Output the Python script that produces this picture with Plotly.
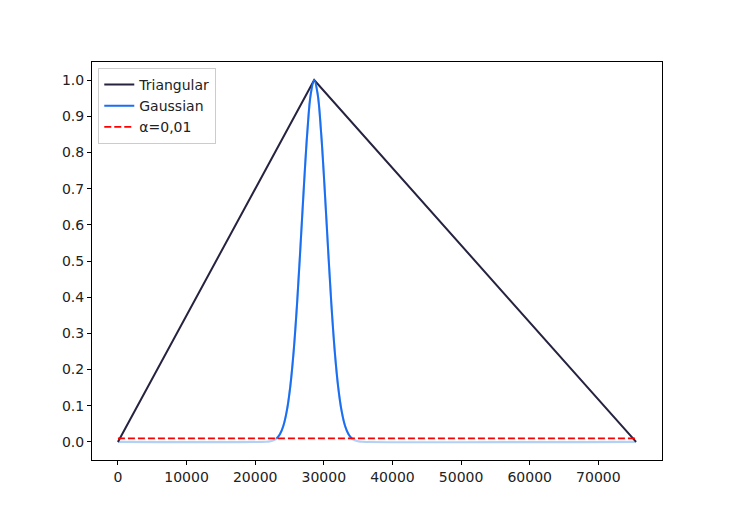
import plotly.graph_objects as go

# values
tri_x = [0, 28600, 75500]
tri_y = [0, 1.0, 0]

gauss_x = [21600, 22100, 22600, 23100, 23600, 24100, 24600, 25100, 25600, 26100,
           26600, 27100, 27600, 28100, 28600, 29100, 29600, 30100, 30600, 31100,
           31600, 32100, 32600, 33100, 33600, 34100, 34600, 35100, 35600]
gauss_y = [0.0005, 0.0015, 0.004, 0.009, 0.021, 0.044, 0.085, 0.151, 0.249, 0.381,
           0.540, 0.707, 0.857, 0.962, 1.0, 0.962, 0.857, 0.707, 0.540, 0.381,
           0.249, 0.151, 0.085, 0.044, 0.021, 0.009, 0.004, 0.0015, 0.0005]

alpha_x = [0, 75500]
alpha_y = [0.01, 0.01]

x_ticks = [0, 10000, 20000, 30000, 40000, 50000, 60000, 70000]
y_ticks = [0.0, 0.1, 0.2, 0.3, 0.4, 0.5, 0.6, 0.7, 0.8, 0.9, 1.0]

# tails of the gaussian (below alpha) drawn pale along the whole support
tail_x = [tri_x[0]] + gauss_x + [tri_x[-1]]
tail_y = [0] + gauss_y + [0]
core = [(x, y) for x, y in zip(gauss_x, gauss_y) if y >= 0.009]
core_x = [c[0] for c in core]
core_y = [c[1] for c in core]

fig = go.Figure()
fig.add_trace(go.Scatter(x=tail_x, y=tail_y, mode="lines", showlegend=False,
                         line=dict(color="#b3d0f7", width=2.2, shape="spline"),
                         hoverinfo="skip"))
fig.add_trace(go.Scatter(x=tri_x, y=tri_y, mode="lines", name="Triangular",
                         line=dict(color="#25233f", width=2)))
fig.add_trace(go.Scatter(x=core_x, y=core_y, mode="lines", name="Gaussian",
                         line=dict(color="#1a6ef2", width=2, shape="spline")))
fig.add_trace(go.Scatter(x=alpha_x, y=alpha_y, mode="lines", name="α=0,01",
                         line=dict(color="red", width=1.8, dash="7px,3px")))

axis_style = dict(showline=True, linecolor="black", linewidth=1, mirror=True,
                  ticks="outside", ticklen=4, tickcolor="black", showgrid=False,
                  zeroline=False, tickfont=dict(size=14, color="#222222"))

# the page body adds an 8px offset, margins compensate for it
fig.update_layout(
    width=736, height=526,
    margin=dict(l=84, r=82, t=54, b=74),
    paper_bgcolor="white", plot_bgcolor="white",
    font=dict(family="DejaVu Sans", size=14, color="#222222"),
    xaxis=dict(range=[-3775, 79275], tickvals=x_ticks,
               ticktext=[str(v) for v in x_ticks], **axis_style),
    yaxis=dict(range=[-0.05, 1.05], tickvals=y_ticks,
               ticktext=["%.1f" % v for v in y_ticks], **axis_style),
    legend=dict(x=0.011, y=0.985, xanchor="left", yanchor="top",
                bgcolor="rgba(255,255,255,0.8)", bordercolor="#cccccc",
                borderwidth=1, font=dict(size=14), tracegroupgap=0,
                itemwidth=30),
    showlegend=True,
)

fig.write_html("out.html")
